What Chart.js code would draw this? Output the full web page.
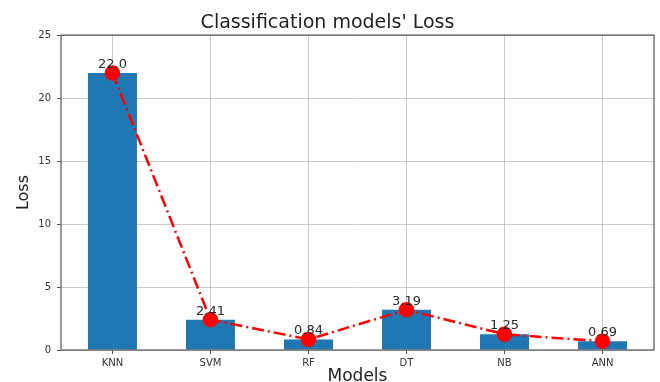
<!DOCTYPE html>
<html>
<head>
<meta charset="utf-8">
<title>Classification models' Loss</title>
<script src="https://cdn.jsdelivr.net/npm/chart.js@4.4.1/dist/chart.umd.min.js"></script>
<style>
  body { margin: 0; background: #ffffff; }
  canvas { display: block; }
</style>
</head>
<body>
<canvas id="lossChart" width="660" height="382"></canvas>
<script>
/* chart data */
var models = ['KNN', 'SVM', 'RF', 'DT', 'NB', 'ANN'];
var lossValues = [22.0, 2.41, 0.84, 3.19, 1.25, 0.69];
var yTicks = [0, 5, 10, 15, 20, 25];

// bars sit on a linear x axis so the margins match the original plot
var points = models.map(function (name, i) {
  return { x: i, y: lossValues[i] };
});

// value labels above each red marker
var valueLabels = {
  id: 'valueLabels',
  afterDatasetsDraw: function (chart) {
    var ctx = chart.ctx;
    var meta = chart.getDatasetMeta(1);
    ctx.save();
    ctx.font = '13px "DejaVu Sans"';
    ctx.fillStyle = '#2a2a2a';
    ctx.textAlign = 'center';
    ctx.textBaseline = 'alphabetic';
    meta.data.forEach(function (pt, i) {
      var v = lossValues[i];
      var txt = Number.isInteger(v) ? v.toFixed(1) : String(v);
      ctx.fillText(txt, pt.x, pt.y - 5);
    });
    ctx.restore();
  }
};

// box round the plot area (top and right too)
var frame = {
  id: 'frame',
  afterDraw: function (chart) {
    var a = chart.chartArea;
    var ctx = chart.ctx;
    ctx.save();
    ctx.strokeStyle = '#555555';
    ctx.lineWidth = 1.2;
    ctx.strokeRect(a.left, a.top, a.right - a.left, a.bottom - a.top);
    ctx.restore();
  }
};

// drop the extra side padding the x scale keeps for its end labels
function noSidePadding(scale) {
  scale.paddingLeft = 0;
  scale.paddingRight = 0;
}

new Chart(document.getElementById('lossChart').getContext('2d'), {
  type: 'bar',
  data: {
    datasets: [
      {
        type: 'bar',
        label: 'Loss',
        data: points,
        backgroundColor: '#1f77b4',
        borderWidth: 0,
        barPercentage: 0.5,
        categoryPercentage: 1.0,
        order: 2
      },
      {
        type: 'line',
        label: 'Loss line',
        data: points,
        borderColor: '#ff0000',
        borderWidth: 2.5,
        borderDash: [12, 4, 2, 4],
        pointBackgroundColor: '#ff0000',
        pointBorderColor: '#ff0000',
        pointRadius: 6.5,
        fill: false,
        tension: 0,
        order: 1
      }
    ]
  },
  options: {
    responsive: false,
    animation: false,
    layout: { autoPadding: false, padding: { left: 1, right: 6, top: 0, bottom: 0 } },
    plugins: {
      legend: { display: false },
      tooltip: { enabled: false },
      title: {
        display: true,
        text: "Classification models' Loss",
        color: '#222222',
        font: { family: 'DejaVu Sans', size: 19, weight: 'normal' },
        padding: { top: 12, bottom: 0.3 }
      }
    },
    scales: {
      x: {
        type: 'linear',
        min: -0.525,
        max: 5.525,
        offset: false,
        z: 1,
        afterFit: function (scale) {
          scale.height = 32;
          noSidePadding(scale);
        },
        ticks: {
          stepSize: 1,
          includeBounds: false,
          autoSkip: false,
          maxRotation: 0,
          padding: 3,
          color: '#333333',
          font: { family: 'DejaVu Sans', size: 10 },
          callback: function (value) {
            return Number.isInteger(value) ? models[value] : '';
          }
        },
        grid: {
          offset: false,
          color: 'rgba(170,170,170,0.6)',
          lineWidth: 1,
          tickLength: 4,
          tickColor: '#555555'
        },
        border: { display: false },
        title: {
          display: true,
          text: 'Models',
          color: '#222222',
          font: { family: 'DejaVu Sans', size: 17 },
          padding: { top: 0, bottom: -5 }
        }
      },
      y: {
        min: 0,
        max: 25,
        z: 1,
        afterFit: function (scale) { scale.width = 60; },
        afterBuildTicks: function (scale) {
          scale.ticks = yTicks.map(function (v) { return { value: v }; });
        },
        ticks: {
          padding: 6,
          color: '#333333',
          font: { family: 'DejaVu Sans', size: 10 }
        },
        grid: {
          color: 'rgba(170,170,170,0.6)',
          lineWidth: 1,
          tickLength: 4,
          tickColor: '#555555'
        },
        border: { display: false },
        title: {
          display: true,
          text: 'Loss',
          color: '#222222',
          font: { family: 'DejaVu Sans', size: 16 },
          padding: { top: 13, bottom: 0 }
        }
      }
    }
  },
  plugins: [valueLabels, frame]
});
</script>
</body>
</html>
